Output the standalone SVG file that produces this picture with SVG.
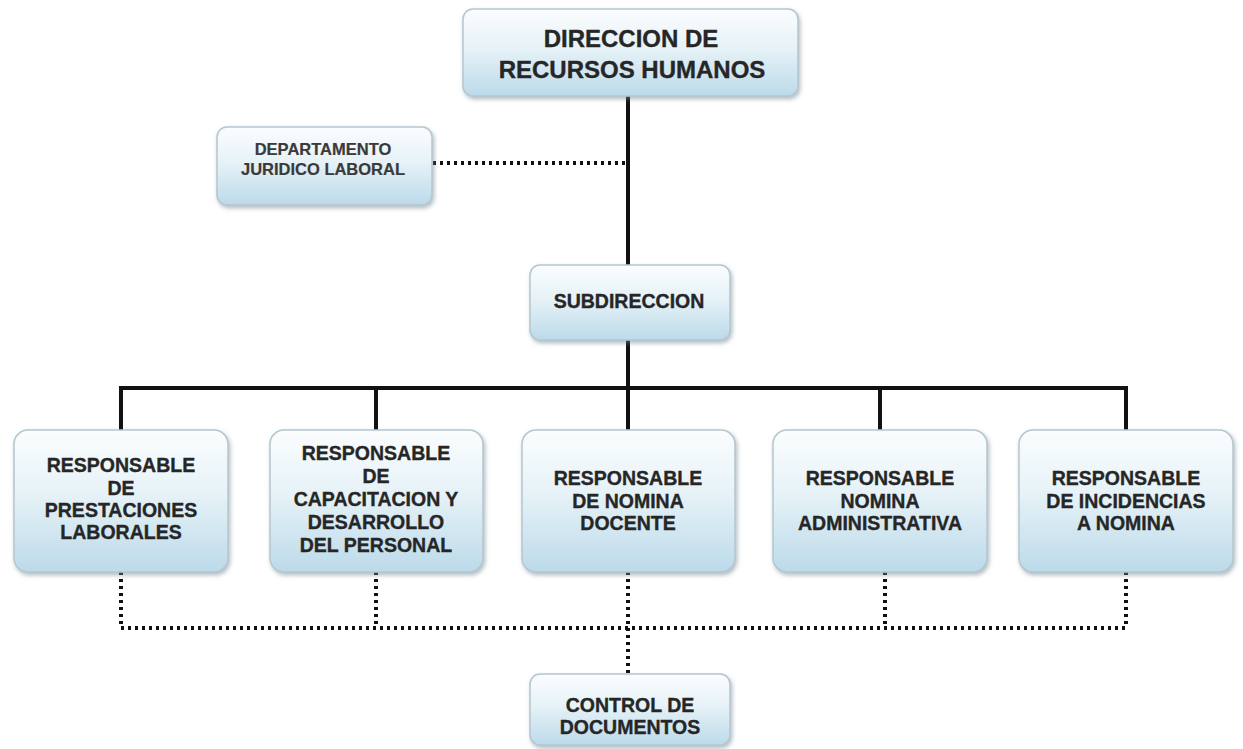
<svg xmlns="http://www.w3.org/2000/svg" width="1243" height="749" viewBox="0 0 1243 749">
  <defs>
    <linearGradient id="boxFill" x1="0" y1="0" x2="0" y2="1">
      <stop offset="0" stop-color="#fbfdfe"/>
      <stop offset="0.45" stop-color="#e6f2f7"/>
      <stop offset="1" stop-color="#bcdaea"/>
    </linearGradient>
    <filter id="shadow" x="-10%" y="-10%" width="125%" height="130%">
      <feDropShadow dx="1.5" dy="2.5" stdDeviation="2" flood-color="#6f8590" flood-opacity="0.55"/>
    </filter>
  </defs>
  <style>
    .box { fill: url(#boxFill); stroke: #b5c6cf; stroke-width: 1.5; filter: url(#shadow); }
    .lbl { font-family: "Liberation Sans", Arial, sans-serif; font-weight: bold; fill: #262626; stroke: #262626; stroke-width: 0.35; text-anchor: middle; }
    .big { font-size: 24px; }
    .mid { font-size: 19.5px; }
    .small { font-size: 16.5px; fill: #3a3a3a; stroke: #3a3a3a; stroke-width: 0.2; }
    .solid { stroke: #111; stroke-width: 4; fill: none; }
    .dots { stroke: #111; stroke-width: 4; fill: none; stroke-dasharray: 3 4; }
  </style>
  <rect width="1243" height="749" fill="#ffffff"/>

  <g id="connectors">
    <path class="solid" d="M628 96 V265 M628 340 V388 M121 388 H1126 M121 386 V430 M376 386 V430 M628 386 V430 M880 386 V430 M1126 386 V430"/>
    <path class="dots" d="M433 163 H626"/>
    <path class="dots" d="M121 572 V628 M376 572 V628 M628 572 V675 M885 572 V628 M1126 572 V628 M121 628 H1128"/>
  </g>

  <g id="direccion">
    <rect class="box" x="463" y="9" width="335" height="87" rx="10"/>
    <text class="lbl big" x="631" y="47">DIRECCION DE</text>
    <text class="lbl big" x="632" y="78">RECURSOS HUMANOS</text>
  </g>

  <g id="juridico">
    <rect class="box" x="217" y="127" width="215" height="78" rx="10"/>
    <text class="lbl small" x="323" y="155">DEPARTAMENTO</text>
    <text class="lbl small" x="323" y="175">JURIDICO LABORAL</text>
  </g>

  <g id="subdireccion">
    <rect class="box" x="530" y="265" width="200" height="75" rx="10"/>
    <text class="lbl mid" x="629" y="308">SUBDIRECCION</text>
  </g>

  <g id="prestaciones">
    <rect class="box" x="14" y="430" width="214" height="142" rx="14"/>
    <text class="lbl mid" x="121" y="472">RESPONSABLE</text>
    <text class="lbl mid" x="121" y="495">DE</text>
    <text class="lbl mid" x="121" y="517">PRESTACIONES</text>
    <text class="lbl mid" x="121" y="539">LABORALES</text>
  </g>

  <g id="capacitacion">
    <rect class="box" x="270" y="430" width="213" height="142" rx="14"/>
    <text class="lbl mid" x="376" y="460">RESPONSABLE</text>
    <text class="lbl mid" x="376" y="483">DE</text>
    <text class="lbl mid" x="376" y="506">CAPACITACION Y</text>
    <text class="lbl mid" x="376" y="529">DESARROLLO</text>
    <text class="lbl mid" x="376" y="552">DEL PERSONAL</text>
  </g>

  <g id="nomina-docente">
    <rect class="box" x="522" y="430" width="213" height="142" rx="14"/>
    <text class="lbl mid" x="628" y="485">RESPONSABLE</text>
    <text class="lbl mid" x="628" y="508">DE NOMINA</text>
    <text class="lbl mid" x="628" y="530">DOCENTE</text>
  </g>

  <g id="nomina-administrativa">
    <rect class="box" x="773" y="430" width="214" height="142" rx="14"/>
    <text class="lbl mid" x="880" y="485">RESPONSABLE</text>
    <text class="lbl mid" x="880" y="508">NOMINA</text>
    <text class="lbl mid" x="880" y="530">ADMINISTRATIVA</text>
  </g>

  <g id="incidencias">
    <rect class="box" x="1019" y="430" width="214" height="142" rx="14"/>
    <text class="lbl mid" x="1126" y="485">RESPONSABLE</text>
    <text class="lbl mid" x="1126" y="508">DE INCIDENCIAS</text>
    <text class="lbl mid" x="1126" y="530">A NOMINA</text>
  </g>

  <g id="control-documentos">
    <rect class="box" x="530" y="674" width="200" height="71" rx="10"/>
    <text class="lbl mid" x="630" y="712">CONTROL DE</text>
    <text class="lbl mid" x="630" y="734">DOCUMENTOS</text>
  </g>
</svg>
